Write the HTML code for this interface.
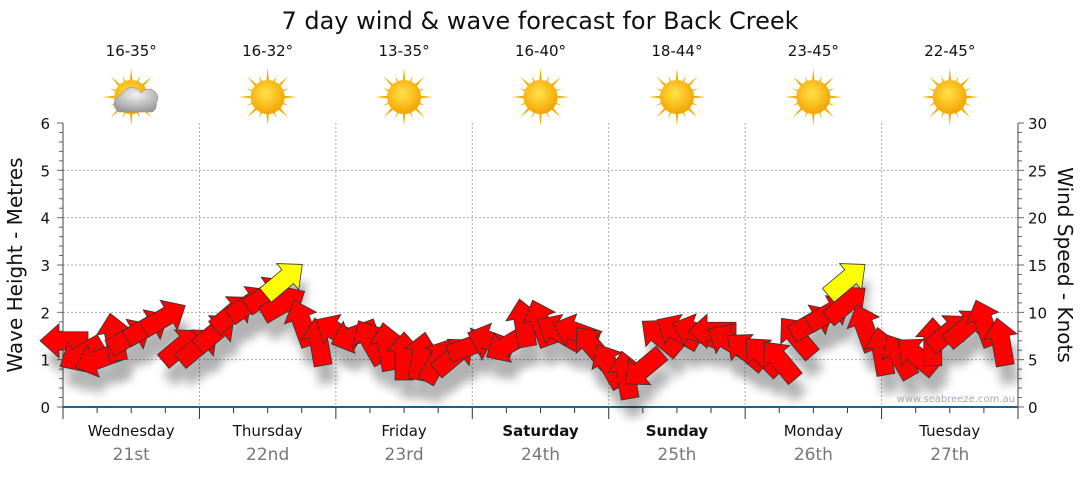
<!DOCTYPE html>
<html><head><meta charset="utf-8"><style>
body{margin:0;background:#fff;font-family:"Liberation Sans","DejaVu Sans",sans-serif}
svg text{font-family:"DejaVu Sans","Liberation Sans",sans-serif}
</style></head><body>
<svg id="c" width="1080" height="475" xmlns="http://www.w3.org/2000/svg">
<defs>
<filter id="sh" x="-50%" y="-50%" width="200%" height="200%"><feGaussianBlur stdDeviation="5"/></filter>
<radialGradient id="sun" cx="45%" cy="40%" r="60%"><stop offset="0" stop-color="#ffe34a"/><stop offset="1" stop-color="#f5a300"/></radialGradient>
<radialGradient id="cloud" cx="50%" cy="30%" r="70%"><stop offset="0" stop-color="#f2f2f2"/><stop offset="1" stop-color="#9a9a9a"/></radialGradient>
</defs>
<text x="540" y="29" font-size="24" text-anchor="middle" fill="#111">7 day wind &amp; wave forecast for Back Creek</text>
<g id="grid"></g><g id="axes"></g><g id="topg"></g><g id="shadows" opacity="0.3"></g><g id="arrows"></g>
<text transform="translate(22,265) rotate(-90)" font-size="20" text-anchor="middle" fill="#111">Wave Height - Metres</text>
<text transform="translate(1058,265) rotate(90)" font-size="20" text-anchor="middle" fill="#111">Wind Speed - Knots</text>
<text x="1015" y="402" font-size="10" text-anchor="end" fill="#9aabbf">www.seabreeze.com.au</text>
</svg>
<script>
const days=["Wednesday","Thursday","Friday","Saturday","Sunday","Monday","Tuesday"];
const dates=["21st","22nd","23rd","24th","25th","26th","27th"];
const boldDays=[false,false,false,true,true,false,false];
const temps=["16-35°","16-32°","13-35°","16-40°","18-44°","23-45°","22-45°"];
const cloudy=[true,false,false,false,false,false,false];
const waveTicks=[0,1,2,3,4,5,6];
const windTicks=[0,5,10,15,20,25,30];
// wind every 3 hours
const windSpeed=[7,5.5,5,7.5,7.5,8.5,9.5,6.5, 6.5,8,10,11,12,11,9,7, 8,7.5,7,6.5,5.5,5.5,5,5.5, 6.5,7,6.5,9,9,8,8,6.5, 4.5,3.5,4,7.5,8,8,8,7, 6,5.5,5,7.5,9,10,11,8.5, 6,5.5,5.5,7,8,8.5,9,7];
const windDir=[180,150,160,-100,-30,-30,-30,-40, -40,-40,-40,-35,-35,-30,-110,-100, -150,160,-120,-100,-90,-80,-60,-40, -20,-160,150,-100,-110,-150,-160,-130, -120,-100,140,-140,-150,-160,180,-150, -140,-135,-130,-130,-30,-30,-40,-110, -100,-120,-140,-90,-40,-40,-110,-100];
const gustIdx=[12,45];
const gustSpeed=[13.5,13.5];
const gustDir=[-40,-40];
const X0=63,X1=1018,Y0=407,Y1=123;
const NS='http://www.w3.org/2000/svg';
function el(t,a,p){const e=document.createElementNS(NS,t);for(const k in a)e.setAttribute(k,a[k]);p.appendChild(e);return e;}
const dayW=(X1-X0)/7;
const xT=h=>X0+h/168*(X1-X0);
const yW=v=>Y0-v/6*(Y0-Y1);
const yK=v=>Y0-v/30*(Y0-Y1);
const gridG=document.getElementById('grid'),axesG=document.getElementById('axes'),topG=document.getElementById('topg');
waveTicks.forEach(v=>{if(v>0&&v<6){const g=el('line',{x1:X0,x2:X1,y1:yW(v),y2:yW(v),stroke:'#aaa','stroke-dasharray':'2,2'},gridG);
 
 }
 const t=el('text',{x:50,y:yW(v)+6,'font-size':15,'text-anchor':'end',fill:'#111'},axesG);t.textContent=v;
 
 });
windTicks.forEach(v=>{const t=el('text',{x:1028,y:yK(v)+6,'font-size':15,fill:'#111'},axesG);t.textContent=v;
 
 });
for(let i=0;i<=30;i++){const y=Y0-i*(Y0-Y1)/30;el('line',{x1:X0-(i%5?4:6),x2:X0,y1:y,y2:y,stroke:'#666'},axesG);el('line',{x1:X1,x2:X1+(i%5?4:6),y1:y,y2:y,stroke:'#666'},axesG);}
el('line',{x1:X0,x2:X0,y1:Y1,y2:Y0,stroke:'#444'},axesG);
el('line',{x1:X1,x2:X1,y1:Y1,y2:Y0,stroke:'#444'},axesG);
for(let h=0;h<=168;h+=6){el('line',{x1:xT(h),x2:xT(h),y1:Y0,y2:Y0+(h%24?6:12),stroke:'#333'},axesG);}
el('line',{x1:X0,x2:X1,y1:Y0,y2:Y0,stroke:'#1f5f8b','stroke-width':2},axesG);
days.forEach((d,i)=>{const cx=X0+dayW*(i+.5);
 if(i>0){const g=el('line',{x1:X0+dayW*i,x2:X0+dayW*i,y1:Y1,y2:Y0,stroke:'#aaa','stroke-dasharray':'2,2'},gridG);
 
 }
 const t=el('text',{x:cx,y:436,'font-size':15,'text-anchor':'middle',fill:'#111','font-weight':boldDays[i]?'bold':'normal'},axesG);t.textContent=d;
 
 
 const t2=el('text',{x:cx,y:460,'font-size':17,'text-anchor':'middle',fill:'#777'},axesG);t2.textContent=dates[i];
 
 
 const t3=el('text',{x:cx,y:56,'font-size':15,'text-anchor':'middle',fill:'#111'},topG);t3.textContent=temps[i];
 
 
 const g=el('g',{transform:`translate(${cx},97)`},topG);
 
 
 for(let r=0;r<16;r++){const a=r*22.5,L=r%2?23:29;el('polygon',{points:`-3,0 3,0 0,-${L}`,fill:'#f0b000',transform:`rotate(${a})`},g);}
 el('circle',{r:17,fill:'url(#sun)'},g);
 if(cloudy[i]){el('path',{d:'M-12,15 a9,9 0 0 1 2,-17 a11,11 0 0 1 20,-2 a9,9 0 0 1 15,10 a8,8 0 0 1 -4,9 z',fill:'url(#cloud)',stroke:'#888','stroke-width':.5},g);}
});
const arrowsG=document.getElementById('arrows'),shadowsG=document.getElementById('shadows');
const AP='-25,-9 4,-9 4,-17 23,0 4,17 4,9 -25,9';
function arrow(x,y,a,fill,name){
 const s=el('polygon',{points:AP,fill:'#000',filter:'url(#sh)',transform:`translate(${x+5},${y+18}) rotate(${a})`},shadowsG);
 
 
 const p=el('polygon',{points:AP,fill:fill,stroke:'#333','stroke-width':.8,transform:`translate(${x},${y}) rotate(${a})`},arrowsG);
 
 }
windSpeed.forEach((v,i)=>arrow(xT(i*3),yK(v),windDir[i],'#ff0000','wind-arrow'));
gustIdx.forEach((k,i)=>arrow(xT(k*3+3),yK(gustSpeed[i]),gustDir[i],'#ffff00','gust-arrow'));
</script>
</body></html>
